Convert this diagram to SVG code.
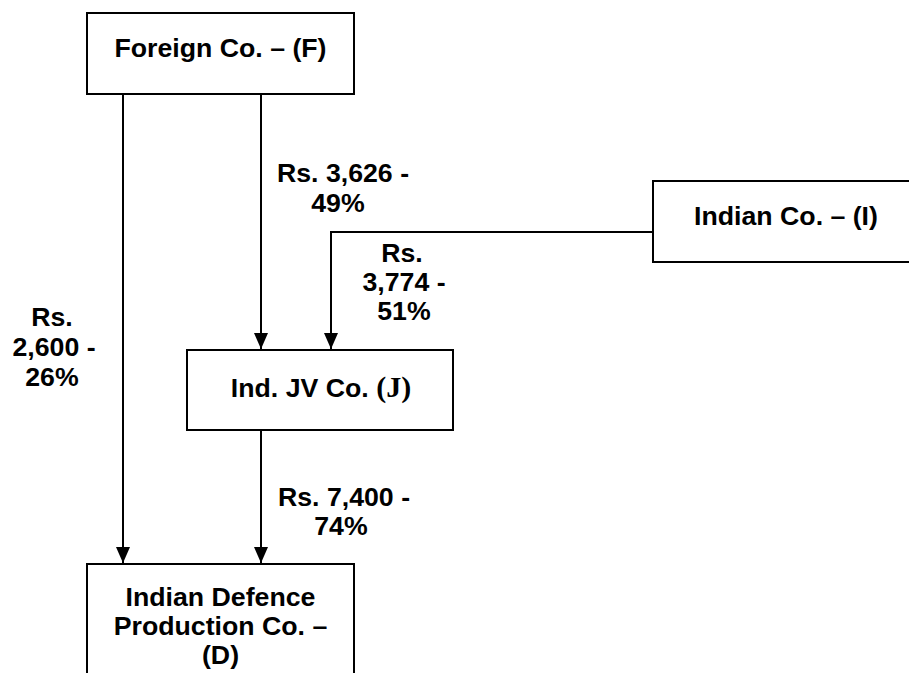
<svg xmlns="http://www.w3.org/2000/svg" width="909" height="673" viewBox="0 0 909 673">
<style>
.box{fill:#fff;stroke:#000;stroke-width:2}
.t{font-family:"Liberation Sans",Arial,sans-serif;font-weight:bold;font-size:26.7px;fill:#000;text-anchor:middle}
.s{font-family:"Liberation Serif","Times New Roman",serif;font-weight:bold;font-size:30px}
.c{fill:none;stroke:#000;stroke-width:2}
</style>
<defs>
<marker id="ah" markerUnits="userSpaceOnUse" markerWidth="16" markerHeight="16" refX="16" refY="7" orient="auto">
<path d="M0,0 L16,7 L0,14 Z" fill="#000"/>
</marker>
</defs>
<rect width="909" height="673" fill="#fff"/>
<g id="connectors">
<line class="c" x1="123" y1="94" x2="123" y2="563" marker-end="url(#ah)"/>
<line class="c" x1="261" y1="94" x2="261" y2="349" marker-end="url(#ah)"/>
<polyline class="c" points="653,232 331,232 331,349" marker-end="url(#ah)"/>
<line class="c" x1="261" y1="430" x2="261" y2="563" marker-end="url(#ah)"/>
<text class="t"><tspan x="343" y="182">Rs. 3,626 -</tspan><tspan x="338" y="212">49%</tspan></text>
<text class="t"><tspan x="402" y="262">Rs.</tspan><tspan x="404" y="291">3,774 -</tspan><tspan x="404" y="320">51%</tspan></text>
<text class="t"><tspan x="52" y="326">Rs.</tspan><tspan x="54" y="356">2,600 -</tspan><tspan x="52" y="386">26%</tspan></text>
<text class="t"><tspan x="344" y="506">Rs. 7,400 -</tspan><tspan x="341" y="535">74%</tspan></text>
</g>
<g id="foreign">
<rect class="box" x="87" y="13" width="267" height="81"/>
<text class="t" x="220.5" y="57">Foreign Co. – (F)</text>
</g>
<g id="indian">
<rect class="box" x="653" y="181" width="266" height="81"/>
<text class="t" x="786" y="225">Indian Co. – (I)</text>
</g>
<g id="jv">
<rect class="box" x="187" y="350" width="266" height="80"/>
<text class="t" x="321" y="397">Ind. JV Co. <tspan class="s">(J)</tspan></text>
</g>
<g id="defence">
<rect class="box" x="87" y="564" width="267" height="130"/>
<text class="t"><tspan x="220.5" y="606">Indian Defence</tspan><tspan x="220.5" y="635">Production Co. –</tspan><tspan x="220.5" y="664">(D)</tspan></text>
</g>
</svg>
